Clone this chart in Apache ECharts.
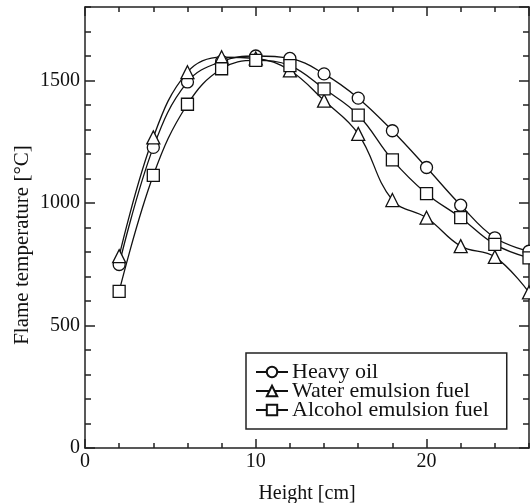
<!DOCTYPE html>
<html>
<head>
<meta charset="utf-8">
<script src="https://cdn.jsdelivr.net/npm/echarts@6/dist/echarts.min.js"></script>
<style>
html,body{margin:0;padding:0;background:#fff;}
#chart{width:530px;height:503px;}
</style>
</head>
<body>
<div id="chart"></div>
<script>
// Data
const heights = [2, 4, 6, 8, 10, 12, 14, 16, 18, 20, 22, 24, 26];
const heavyOil = [749, 1227, 1494, 1578, 1600, 1590, 1527, 1428, 1295, 1145, 991, 858, 803];
const waterEmulsion = [783, 1268, 1534, 1595, 1590, 1541, 1418, 1282, 1012, 940, 824, 780, 635];
const alcoholEmulsion = [639, 1113, 1403, 1548, 1582, 1561, 1466, 1359, 1176, 1038, 940, 831, 776];
const seriesNames = ['Heavy oil', 'Water emulsion fuel', 'Alcohol emulsion fuel'];
const seriesSymbols = ['circle', 'triangle', 'rect'];
const xName = 'Height [cm]';
const yName = 'Flame temperature [°C]';

const FONT = "'Liberation Serif', 'Times New Roman', serif";
const INK = '#111';
const AX = '#222';

function pairs(ys) { return heights.map((h, i) => [h, ys[i]]); }

function xAx(pos, interval, len, labels, line) {
  return {
    type: 'value', position: pos, min: 0, max: 26, interval: interval,
    axisLine: { show: line, onZero: false, lineStyle: { color: AX, width: 1.5 } },
    axisTick: { show: true, inside: true, length: len, lineStyle: { color: AX, width: 1.5 } },
    axisLabel: { show: labels, fontFamily: FONT, fontSize: 20, color: INK, margin: 4, showMaxLabel: false,
                 formatter: v => String(v) },
    splitLine: { show: false },
    name: labels ? xName : '', nameLocation: 'middle', nameGap: 36,
    nameTextStyle: { fontFamily: FONT, fontSize: 20, color: INK }
  };
}
function yAx(pos, interval, len, labels, line) {
  return {
    type: 'value', position: pos, min: 0, max: 1800, interval: interval,
    axisLine: { show: line, onZero: false, lineStyle: { color: AX, width: 1.5 } },
    axisTick: { show: true, inside: true, length: len, lineStyle: { color: AX, width: 1.5 } },
    axisLabel: { show: labels, fontFamily: FONT, fontSize: 20, color: INK, margin: 5, showMaxLabel: false,
                 formatter: v => String(v) },
    splitLine: { show: false }
  };
}

const dataSets = [heavyOil, waterEmulsion, alcoholEmulsion];

const option = {
  animation: false,
  backgroundColor: '#fff',
  grid: { left: 85, right: 1, top: 7, bottom: 55, containLabel: false, outerBoundsMode: 'none' },
  xAxis: [
    xAx('bottom', 10, 9, true, true),
    xAx('bottom', 2, 5, false, false),
    xAx('top', 10, 9, false, true),
    xAx('top', 2, 5, false, false)
  ],
  yAxis: [
    yAx('left', 500, 10, true, true),
    yAx('left', 100, 6, false, false),
    yAx('right', 500, 10, false, true),
    yAx('right', 100, 6, false, false)
  ],
  graphic: [{
    type: 'text',
    x: 22, y: 245,
    rotation: Math.PI / 2,
    style: {
      text: yName, fontFamily: FONT, fontSize: 21, fill: INK,
      align: 'center', verticalAlign: 'middle'
    }
  }],
  legend: {
    orient: 'vertical',
    left: 246, top: 353,
    padding: [8, 18, 8, 9],
    itemGap: -3,
    itemWidth: 32, itemHeight: 13,
    backgroundColor: '#fff',
    borderColor: AX, borderWidth: 1.5, borderRadius: 0,
    textStyle: { fontFamily: FONT, fontSize: 22, color: INK, lineHeight: 19, padding: [0, 0, 0, -1] },
    data: seriesNames
  },
  series: dataSets.map((d, i) => ({
    name: seriesNames[i],
    type: 'line',
    xAxisIndex: 0, yAxisIndex: 0,
    data: pairs(d),
    smooth: 0.4,
    symbol: seriesSymbols[i],
    symbolSize: i === 1 ? 13 : 12,
    showAllSymbol: true,
    itemStyle: { color: '#fff', borderColor: '#111', borderWidth: 1.3 },
    lineStyle: { color: '#111', width: 1.3 },
    clip: false
  }))
};

const chart = echarts.init(document.getElementById('chart'), null, { renderer: 'canvas' });
chart.setOption(option);
</script>
</body>
</html>
